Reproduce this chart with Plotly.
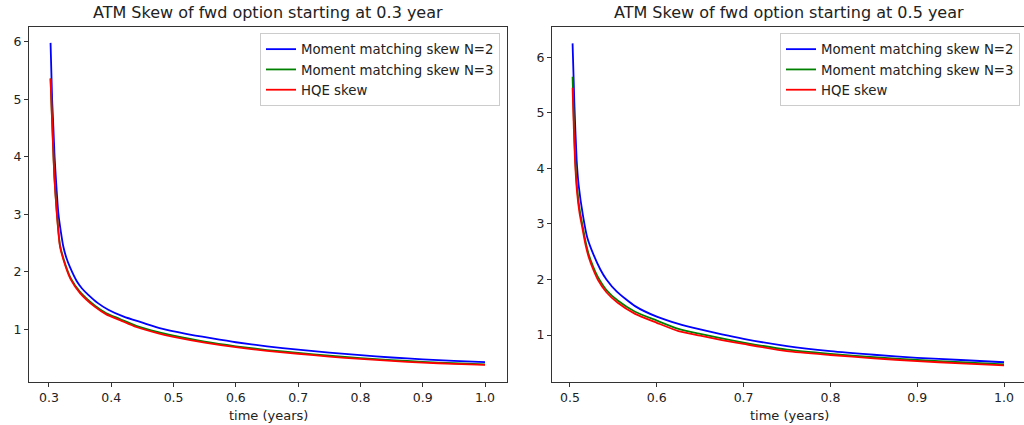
import plotly.graph_objects as go

# ---- Left panel: forward option starting at 0.3 year ----
t_mm2_left = [0.3025, 0.305, 0.307, 0.309, 0.3112, 0.315, 0.319, 0.323, 0.328, 0.3337,
              0.3444, 0.353, 0.3631, 0.378, 0.3952, 0.42, 0.4488, 0.481, 0.52, 0.56,
              0.6, 0.65, 0.7, 0.75, 0.8, 0.85, 0.9, 0.95, 1.0]
mm2_left = [5.98, 5.0, 4.52, 4.0, 3.60, 3.02, 2.7, 2.44, 2.24, 2.08,
            1.84, 1.71, 1.60, 1.46, 1.34, 1.22, 1.12, 1.01, 0.92, 0.845,
            0.775, 0.705, 0.645, 0.595, 0.55, 0.51, 0.478, 0.453, 0.43]

t_hqe_left = [0.3025, 0.3045, 0.3065, 0.3086, 0.3123, 0.3177, 0.3268, 0.3353, 0.3498,
              0.3738, 0.392, 0.414, 0.44, 0.4755, 0.5, 0.55, 0.6, 0.65, 0.7, 0.75,
              0.8, 0.85, 0.9, 0.95, 1.0]
mm3_left = [5.36, 4.77, 4.22, 3.67, 3.07, 2.46, 2.11, 1.88, 1.65,
            1.41, 1.28, 1.18, 1.06, 0.95, 0.89, 0.785, 0.705, 0.64, 0.59, 0.54,
            0.50, 0.465, 0.435, 0.41, 0.39]
hqe_left = [5.36, 4.75, 4.2, 3.65, 3.05, 2.44, 2.09, 1.86, 1.63,
            1.39, 1.26, 1.16, 1.04, 0.93, 0.87, 0.77, 0.69, 0.625, 0.575, 0.525,
            0.485, 0.45, 0.42, 0.40, 0.38]

# ---- Right panel: forward option starting at 0.5 year ----
t_mm2_right = [0.503, 0.505, 0.5077, 0.51, 0.515, 0.52, 0.527, 0.535, 0.542, 0.554,
               0.575, 0.6, 0.625, 0.65, 0.675, 0.7, 0.75, 0.8, 0.85, 0.9, 0.95, 1.0]
mm2_right = [6.25, 5.2, 4.15, 3.7, 3.15, 2.75, 2.45, 2.18, 2.0, 1.78,
             1.52, 1.33, 1.20, 1.10, 1.01, 0.93, 0.80, 0.71, 0.645, 0.59, 0.55, 0.51]

t_hqe_right = [0.503, 0.5045, 0.5058, 0.508, 0.511, 0.5146, 0.518, 0.522, 0.527, 0.532,
               0.542, 0.555, 0.575, 0.6, 0.625, 0.65, 0.675, 0.7, 0.75, 0.8, 0.85,
               0.9, 0.95, 1.0]
mm3_right = [5.65, 4.85, 4.25, 3.68, 3.27, 2.96, 2.68, 2.43, 2.22, 2.05,
             1.81, 1.62, 1.42, 1.26, 1.11, 1.02, 0.94, 0.865, 0.735, 0.66, 0.60,
             0.55, 0.51, 0.47]
hqe_right = [5.45, 4.7, 4.15, 3.6, 3.2, 2.9, 2.62, 2.38, 2.17, 2.0,
             1.77, 1.58, 1.38, 1.22, 1.07, 0.99, 0.91, 0.84, 0.71, 0.64, 0.58,
             0.53, 0.49, 0.455]

series_names = ["Moment matching skew N=2", "Moment matching skew N=3", "HQE skew"]
series_colors = ["#0000ff", "#008000", "#ff0000"]
titles = ["ATM Skew of fwd option starting at 0.3 year",
          "ATM Skew of fwd option starting at 0.5 year"]
x_ticks_left = [0.3, 0.4, 0.5, 0.6, 0.7, 0.8, 0.9, 1.0]
x_ticks_right = [0.5, 0.6, 0.7, 0.8, 0.9, 1.0]
y_ticks = [1, 2, 3, 4, 5, 6]

W, H = 1024, 425
mt, mb = 27, 43
plot_h = H - mt - mb

fig = go.Figure()
panels = [
    ([(t_mm2_left, mm2_left), (t_hqe_left, mm3_left), (t_hqe_left, hqe_left)],
     "x", "y", "legend"),
    ([(t_mm2_right, mm2_right), (t_hqe_right, mm3_right), (t_hqe_right, hqe_right)],
     "x2", "y2", "legend2"),
]
for data, xa, ya, lg in panels:
    for name, col, (t, y) in zip(series_names, series_colors, data):
        fig.add_trace(go.Scatter(x=t, y=y, mode="lines", name=name,
                                 line=dict(color=col, width=1.8, shape="spline",
                                           smoothing=0.6),
                                 xaxis=xa, yaxis=ya, legend=lg))

font = "DejaVu Sans, Arial, sans-serif"
axcol = "#333333"
common_x = dict(showgrid=False, zeroline=False, showline=True, linecolor=axcol,
                linewidth=1, mirror=True, ticks="outside", ticklen=4,
                tickcolor=axcol, tickfont=dict(size=12.5, color="#222", family=font),
                automargin=False)
common_y = dict(showgrid=False, zeroline=False, showline=True, linecolor=axcol,
                linewidth=1, ticks="outside", ticklen=4, tickcolor=axcol,
                tickfont=dict(size=12.5, color="#222", family=font),
                tickvals=y_ticks, automargin=False)

dl = [29 / W, 507 / W]
dr = [552 / W, 1.0]

legend_common = dict(bgcolor="rgba(255,255,255,0.85)", bordercolor="#cccccc",
                     borderwidth=1, font=dict(size=13.3, color="#222", family=font),
                     xanchor="right", yanchor="top", itemwidth=30)

fig.update_layout(
    width=W, height=H,
    margin=dict(l=0, r=0, t=mt, b=mb),
    paper_bgcolor="white", plot_bgcolor="white",
    font=dict(family=font, color="#222"),
    xaxis=dict(domain=dl, range=[0.2679, 1.0353], tickvals=x_ticks_left,
               tickformat=".1f", anchor="y", **common_x),
    yaxis=dict(domain=[0, 1], range=[0.084, 6.256], anchor="x", mirror=True, **common_y),
    xaxis2=dict(domain=dr, range=[0.4793, 1.023], tickvals=x_ticks_right,
                tickformat=".1f", anchor="y2", **common_x),
    yaxis2=dict(domain=[0, 1], range=[0.154, 6.545], anchor="x2", mirror=False, **common_y),
    legend=dict(x=500 / W, y=1 - 6 / plot_h, **legend_common),
    legend2=dict(x=1020 / W, y=1 - 6 / plot_h, **legend_common),
    showlegend=True,
)

anns = []
for title, cx in zip(titles, [268, 789]):
    anns.append(dict(text=title, x=cx / W, y=1 + (27 - 12) / plot_h, xref="paper",
                     yref="paper", xanchor="center", yanchor="middle",
                     showarrow=False, font=dict(size=16, color="#222", family=font)))
for cx in [268, 789]:
    anns.append(dict(text="time (years)", x=cx / W, y=-(415 - 382) / plot_h,
                     xref="paper", yref="paper", xanchor="center", yanchor="middle",
                     showarrow=False, font=dict(size=13, color="#222", family=font)))
fig.update_layout(annotations=anns)

fig.write_html("out.html",
               config={"displayModeBar": False},
               post_script="document.body.style.margin='0px';"
                           "document.body.style.overflow='hidden';")
